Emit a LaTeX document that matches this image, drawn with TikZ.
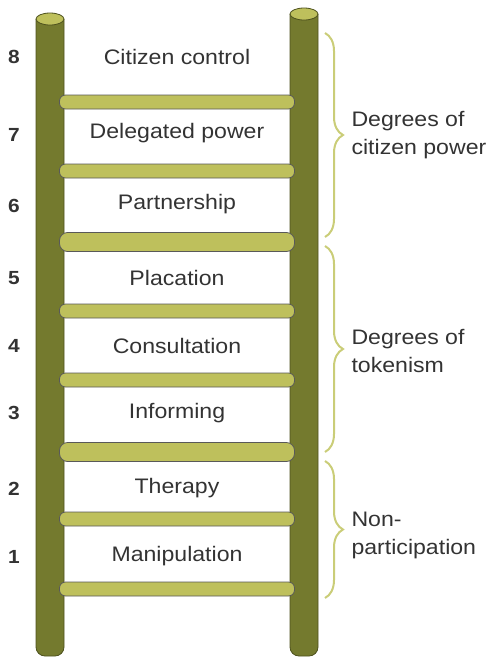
\documentclass[tikz,border=0pt]{standalone}
\usepackage{fontspec}
\setmainfont[FakeStretch=1.1]{Liberation Sans}
\usetikzlibrary{decorations.pathreplacing}
\definecolor{polec}{RGB}{116,122,46}
\definecolor{polelinec}{RGB}{78,82,30}
\definecolor{rungc}{RGB}{190,192,92}
\definecolor{bracec}{RGB}{202,205,120}
\definecolor{txtc}{RGB}{51,51,51}

\begin{document}
\begin{tikzpicture}[x=1pt,y=-1pt]
\tikzstyle{rail}=[draw=polelinec, fill=polec, line width=0.8pt, rounded corners=9pt]
\tikzstyle{railtop}=[draw=polelinec, fill=rungc, line width=0.8pt]
\tikzstyle{rung}=[draw=black!65, fill=rungc, line width=0.8pt, rounded corners=6pt, minimum width=235pt, minimum height=14pt, inner sep=0pt]
\tikzstyle{thickrung}=[rung, minimum height=19pt, rounded corners=8pt]
\tikzstyle{steplabel}=[text=txtc, font=\fontsize{21}{24}\selectfont]
\tikzstyle{num}=[text=txtc, font=\fontsize{19}{22}\selectfont\bfseries]
\tikzstyle{group}=[text=txtc, anchor=west, align=left, font=\fontsize{21}{28}\selectfont]
\tikzstyle{brace}=[draw=bracec, line width=2pt, decorate, decoration={brace, amplitude=18pt}]

\useasboundingbox (0,0) rectangle (494,657);

\draw[rail] (36,19) -- (36,656) -- (64,656) -- (64,19);
\draw[railtop] (50,19) ellipse (14 and 6);
\draw[rail] (290,14) -- (290,656) -- (318,656) -- (318,14);
\draw[railtop] (304,14) ellipse (14 and 6);

\node[rung] (r1) at (177,102) {};
\node[rung] (r2) at (177,171) {};
\node[thickrung] (r3) at (177,242) {};
\node[rung] (r4) at (177,311) {};
\node[rung] (r5) at (177,380) {};
\node[thickrung] (r6) at (177,452) {};
\node[rung] (r7) at (177,519) {};
\node[rung] (r8) at (177,589) {};

\node[steplabel] (l8) at (177,57) {Citizen control};
\node[steplabel] (l7) at (177,133) {Delegated power};
\node[steplabel] (l6) at (177,204) {Partnership};
\node[steplabel] (l5) at (177,278) {Placation};
\node[steplabel] (l4) at (177,346) {Consultation};
\node[steplabel] (l3) at (177,413) {Informing};
\node[steplabel] (l2) at (177,488) {Therapy};
\node[steplabel] (l1) at (177,556) {Manipulation};

\node[num] (n8) at (14,57) {8};
\node[num] (n7) at (14,135) {7};
\node[num] (n6) at (14,206) {6};
\node[num] (n5) at (14,278) {5};
\node[num] (n4) at (14,346) {4};
\node[num] (n3) at (14,413) {3};
\node[num] (n2) at (14,489) {2};
\node[num] (n1) at (14,557) {1};

\coordinate (b1t) at (325,33);
\coordinate (b1b) at (325,237);
\coordinate (b2t) at (325,246);
\coordinate (b2b) at (325,452);
\coordinate (b3t) at (325,461);
\coordinate (b3b) at (325,598);
\draw[brace] (b1t) -- (b1b);
\draw[brace] (b2t) -- (b2b);
\draw[brace] (b3t) -- (b3b);

\node[group] (g1) at (348,135) {Degrees of\\citizen power};
\node[group] (g2) at (348,351) {Degrees of\\tokenism};
\node[group] (g3) at (348,535) {Non-\\participation};
\end{tikzpicture}
\end{document}
